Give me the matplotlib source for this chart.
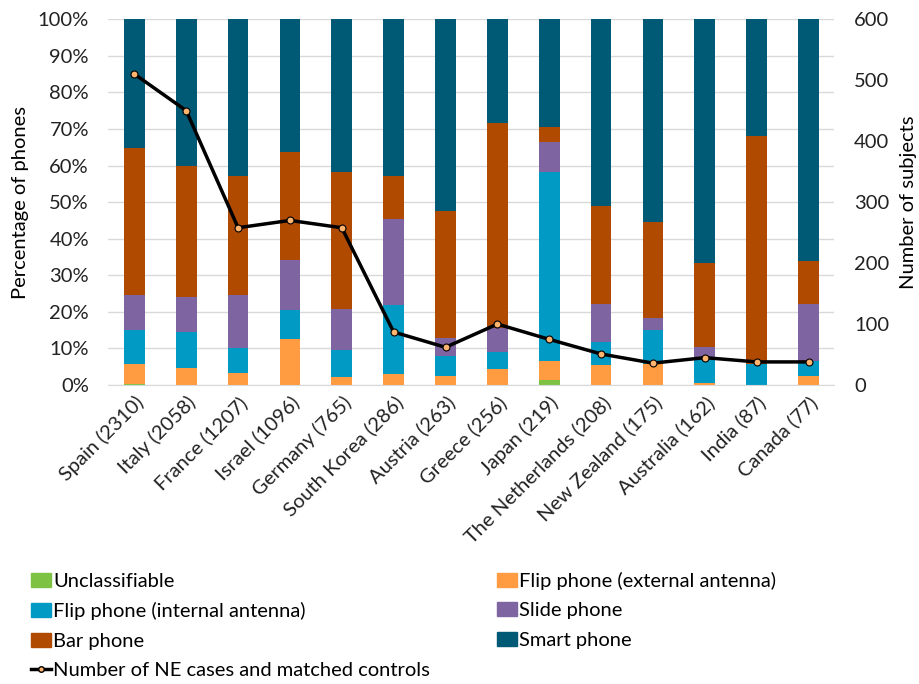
import numpy as np
import matplotlib.pyplot as plt
from matplotlib.lines import Line2D
from matplotlib.patches import Patch

plt.rcParams['font.family'] = ['Lato', 'DejaVu Sans']

# data (cumulative tops, converted to segment shares below)
countries = ['Spain (2310)', 'Italy (2058)', 'France (1207)', 'Israel (1096)',
             'Germany (765)', 'South Korea (286)', 'Austria (263)', 'Greece (256)',
             'Japan (219)', 'The Netherlands (208)', 'New Zealand (175)',
             'Australia (162)', 'India (87)', 'Canada (77)']
unclass = [0.3, 0, 0, 0, 0, 0, 0, 0, 1.5, 0, 0, 0, 0, 0]
flip_ext_top = [5.7, 4.8, 3.3, 12.6, 2.1, 2.9, 2.6, 4.5, 6.6, 5.4, 5.9, 0.6, 0, 2.6]
flip_int_top = [15.0, 14.6, 10.1, 20.4, 9.5, 21.8, 7.9, 9.1, 58.1, 11.7, 15.0, 6.9, 5.9, 6.6]
slide_top = [24.6, 24.1, 24.6, 34.2, 20.7, 45.5, 12.9, 15.7, 66.4, 22.2, 18.2, 10.5, 5.9, 22.2]
bar_top = [64.7, 59.9, 57.2, 63.8, 58.1, 57.2, 47.5, 71.7, 70.4, 49.0, 44.6, 33.4, 68.0, 33.9]
subjects = [510, 450, 258, 270, 258, 87, 62, 100, 75, 51, 36, 45, 38, 38]

labels = ['Unclassifiable', 'Flip phone (external antenna)', 'Flip phone (internal antenna)',
          'Slide phone', 'Bar phone', 'Smart phone']
colors = ['#7DC243', '#FF9B40', '#009AC4', '#7E64A0', '#B04A00', '#005A75']

tops = np.array([unclass, flip_ext_top, flip_int_top, slide_top, bar_top,
                 [100] * len(countries)], dtype=float)
bottoms = np.vstack([np.zeros(len(countries)), tops[:-1]])

FS = 14.5
fig = plt.figure(figsize=(9.19, 6.84), dpi=100)
ax = fig.add_axes([0.118, 0.437, 0.79, 0.535])
x = np.arange(len(countries))
for i in range(len(labels)):
    ax.bar(x, tops[i] - bottoms[i], bottom=bottoms[i], width=0.4,
           color=colors[i], zorder=2)

ax.set_ylim(0, 100)
ax.set_xlim(-0.5, len(countries) - 0.5)
ax.set_yticks(np.arange(0, 101, 10))
ax.set_yticklabels([f'{v}%' for v in range(0, 101, 10)])
ax.grid(axis='y', color='#D9D9D9', lw=1, zorder=0)
for s in ['top', 'right', 'left']:
    ax.spines[s].set_visible(False)
ax.spines['bottom'].set_color('#D9D9D9')
ax.tick_params(length=0, labelsize=FS, colors='#222222')
ax.tick_params(axis='y', pad=14)
ax.tick_params(axis='x', pad=6)
ax.set_xticks(x)
ax.set_xticklabels(countries, rotation=45, ha='right', rotation_mode='anchor')
ax.set_ylabel('Percentage of phones', fontsize=FS, labelpad=6)

ax2 = ax.twinx()
ax2.plot(x, subjects, color='black', lw=2.5, marker='o', ms=5,
         mfc='#FFB570', mec='black', mew=0.8, zorder=5)
ax2.set_ylim(0, 600)
ax2.set_yticks(np.arange(0, 601, 100))
for s in ['top', 'right', 'left', 'bottom']:
    ax2.spines[s].set_visible(False)
ax2.tick_params(length=0, labelsize=FS, colors='#222222', pad=14)
ax2.set_ylabel('Number of subjects', fontsize=FS, labelpad=8)

patches = [Patch(color=c, label=l) for c, l in zip(colors, labels)]
line_h = Line2D([], [], color='black', lw=2.5, marker='o', ms=4,
                mfc='#FFB570', mec='black', label='Number of NE cases and matched controls')
handles = [patches[0], patches[2], patches[4], line_h, patches[1], patches[3], patches[5]]
fig.legend(handles=handles, labels=[h.get_label() for h in handles], ncol=2,
           loc='upper left', bbox_to_anchor=(0.025, 0.176), frameon=False,
           fontsize=FS, handlelength=1.0, handletextpad=0.1, columnspacing=3.3,
           labelspacing=0.62, borderaxespad=0)

fig.savefig('out.png', dpi=100)
